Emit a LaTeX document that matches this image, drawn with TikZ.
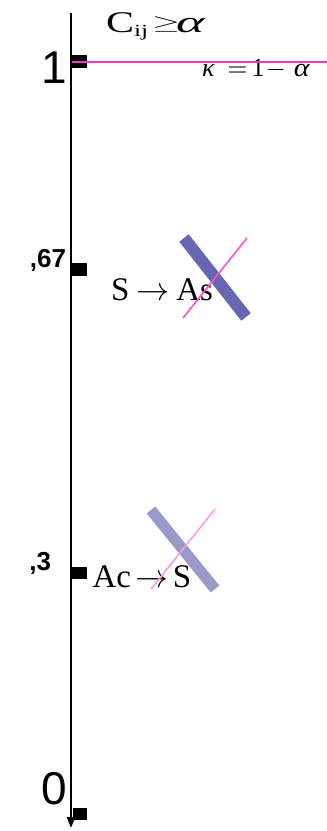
\documentclass[tikz,border=0pt]{standalone}
\usepackage{fontspec}
\usepackage{graphicx}
\setmainfont{Liberation Serif}
\setsansfont{Liberation Sans}
\usetikzlibrary{arrows.meta}
\definecolor{magline}{HTML}{FF33CC}
\definecolor{pinkA}{HTML}{FF4FD0}
\definecolor{pinkB}{HTML}{FF99E6}
\definecolor{barA}{HTML}{6666B3}
\definecolor{barB}{HTML}{9999CC}
\newcommand{\fs}[1]{\fontsize{#1}{#1}\selectfont}
\newcommand{\bigarr}{\scalebox{3.3}{\fs{10}$\rightarrow$}}
\begin{document}
\begin{tikzpicture}[x=1pt,y=-1pt,
  lab/.style={inner sep=0pt, outer sep=0pt},
  ticklab/.style={lab, anchor=base east, font=\sffamily},
  eq/.style={lab, anchor=base west},
  tickmark/.style={fill=black},
  axisline/.style={line width=2.5pt, -{Triangle[width=8pt,length=11pt]}},
  thickbar/.style={line width=#1pt, line cap=butt},
  thinbar/.style={line width=1.5pt}]
\useasboundingbox (0,0) rectangle (327,831);
% axis
\coordinate (axtop) at (71,13);
\coordinate (axbot) at (71,828);
\draw[axisline] (axtop) -- (axbot);
% ticks
\fill[tickmark] (71,55) rectangle (87,68);
\fill[tickmark] (71,263) rectangle (87,276);
\fill[tickmark] (71,567) rectangle (87,579);
\fill[tickmark] (73,808) rectangle (87,820);
% tick labels
\node[ticklab] (l1) at (67,83) {\fs{46}1};
\node[ticklab] (l67) at (66,267) {\fs{26}\bfseries ,67};
\node[ticklab] (l3) at (51,570) {\fs{26}\bfseries ,3};
\node[ticklab] (l0) at (67,804) {\fs{46}0};
% top equation  C_ij >= alpha
\node[eq] (cC) at (106,32) {\scalebox{1.4}[1]{\fs{30}C}};
\node[eq] (cij) at (134,36) {\scalebox{1.5}[1]{\fs{17}ij}};
\node[eq] (cge) at (152,29.3) {\scalebox{3.6}[2]{\fs{10}$\geq$}};
\node[eq] (calpha) at (176,32) {\scalebox{1.8}[1]{\fs{30}\itshape α}};
% horizontal magenta line
\coordinate (hl0) at (72,62);
\coordinate (hl1) at (327,62);
\node[eq] (kappa) at (202,76) {\fs{26}{\itshape κ}\hspace{13pt}\scalebox{2.6}{\fs{10}$=$}\hspace{4pt}1\hspace{1pt}\scalebox{2.6}{\fs{10}$-$}\hspace{8pt}\scalebox{1.15}[1]{\itshape α}};
\draw[magline, line width=2pt] (hl0) -- (hl1);
% upper cross
\coordinate (ua0) at (184,238);
\coordinate (ua1) at (246,317);
\coordinate (ub0) at (183,318);
\coordinate (ub1) at (247,238);
\draw[barA, thickbar=12] (ua0) -- (ua1);
\node[eq] (sas) at (111,300) {\fs{33}S\hspace{7pt}\bigarr\hspace{7pt}As};
\draw[pinkA, thinbar] (ub0) -- (ub1);
% lower cross
\coordinate (la0) at (151,510);
\coordinate (la1) at (215,589);
\coordinate (lb0) at (151,589);
\coordinate (lb1) at (215,509);
\draw[barB, thickbar=11] (la0) -- (la1);
\node[eq] (acs) at (92.5,587) {\fs{33}Ac\hspace{5pt}\bigarr\hspace{4pt}S};
\draw[pinkB, thinbar] (lb0) -- (lb1);
\end{tikzpicture}
\end{document}
